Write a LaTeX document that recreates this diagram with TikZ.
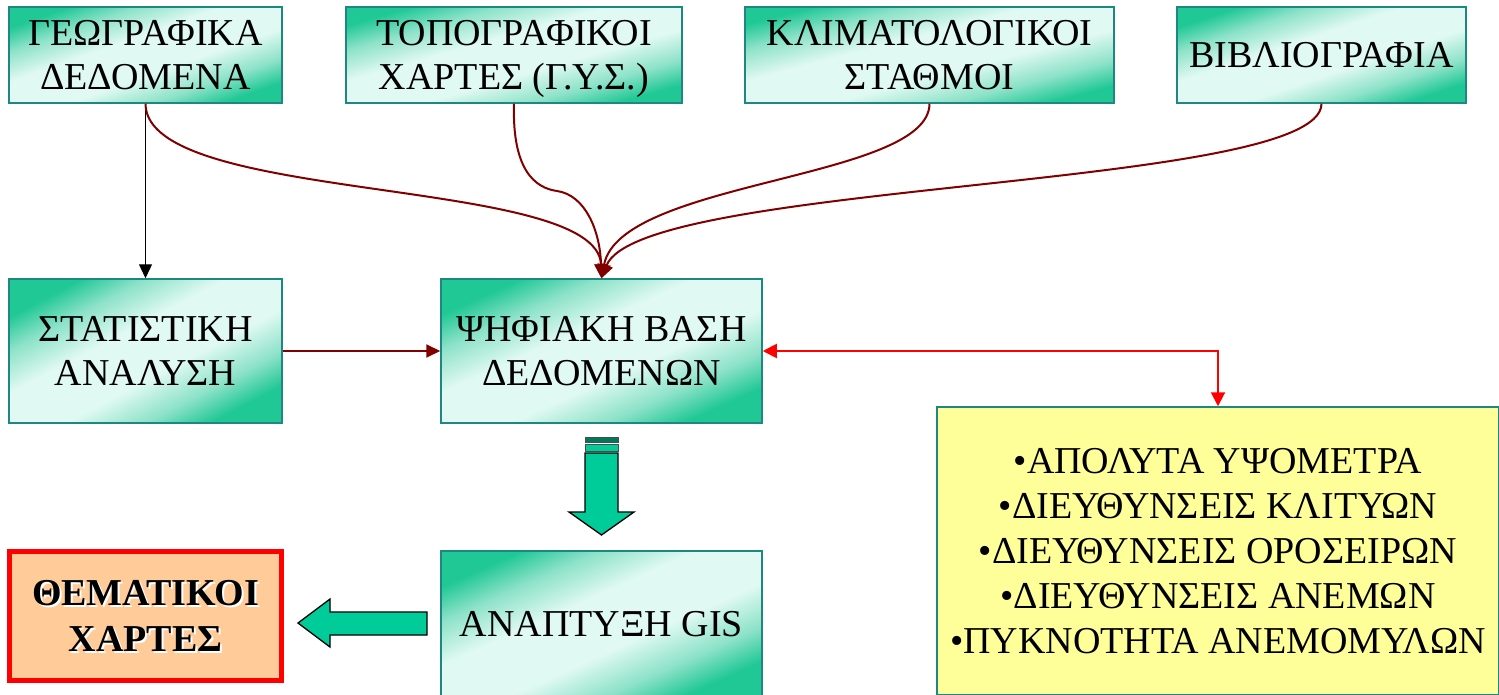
\documentclass[tikz,border=0pt]{standalone}
\usepackage{fontspec}
\setmainfont{Liberation Serif}
\usetikzlibrary{arrows.meta}
\definecolor{boxgreen}{RGB}{32,200,150}
\definecolor{boxlight}{RGB}{224,249,243}
\definecolor{boxmid}{RGB}{140,226,200}
\definecolor{boxedge}{RGB}{30,135,130}
\definecolor{darkred}{RGB}{128,0,0}
\definecolor{arrowgreen}{RGB}{0,204,153}
\definecolor{stripedark}{RGB}{0,120,90}
\definecolor{peach}{RGB}{255,204,153}
\definecolor{paleyellow}{RGB}{255,255,153}
\pgfdeclareverticalshading{gdiag}{100bp}{color(0bp)=(boxgreen); color(25bp)=(boxgreen);
  color(33bp)=(boxmid); color(43bp)=(boxlight); color(57bp)=(boxlight);
  color(67bp)=(boxmid); color(75bp)=(boxgreen); color(100bp)=(boxgreen)}
\tikzset{
  gbox/.style={draw=boxedge, line width=1.5pt, shading=gdiag, shading angle=#1,
    align=center, font=\fontsize{38}{44}\selectfont, inner sep=0pt},
  ybox/.style={draw=boxedge, line width=1.5pt, fill=paleyellow, align=center,
    font=\fontsize{38}{45}\selectfont, inner sep=0pt},
  rbox/.style={draw=red, line width=5pt, fill=peach, inner sep=0pt},
  themtext/.style={align=center, font=\bfseries\fontsize{38}{46}\selectfont, inner sep=0pt},
  drline/.style={draw=darkred, line width=2pt, -{Triangle[length=14pt,width=13pt]}},
  blkline/.style={draw=black, line width=1.3pt, -{Triangle[length=14pt,width=13pt]}},
  redline/.style={draw=red, line width=2pt, {Triangle[length=14pt,width=14pt]}-{Triangle[length=14pt,width=14pt]}},
  blockarrow/.style={draw=black, line width=1.3pt, fill=arrowgreen, line join=miter},
  stripebox/.style={draw=black!70, line width=0.8pt, fill=arrowgreen},
}
\begin{document}
\begin{tikzpicture}[x=1pt,y=-1pt]
\useasboundingbox (0,0) rectangle (1499,695);
% top row
\node[gbox=19.4, minimum width=273pt, minimum height=96pt] (g1) at (145.5,55) {ΓΕΩΓΡΑΦΙΚΑ\\ΔΕΔΟΜΕΝΑ};
\node[gbox=15.9, minimum width=336pt, minimum height=96pt] (g2) at (514,55) {ΤΟΠΟΓΡΑΦΙΚΟΙ\\ΧΑΡΤΕΣ \smash{(Γ.Υ.Σ.)}};
\node[gbox=14.6, minimum width=369pt, minimum height=96pt] (g3) at (929.5,55) {ΚΛΙΜΑΤΟΛΟΓΙΚΟΙ\\ΣΤΑΘΜΟΙ};
\node[gbox=18.4, minimum width=289pt, minimum height=96pt] (g4) at (1321.5,55) {ΒΙΒΛΙΟΓΡΑΦΙΑ};
% middle row
\node[gbox=27.8, minimum width=273pt, minimum height=144pt] (g5) at (145.5,351) {ΣΤΑΤΙΣΤΙΚΗ\\ΑΝΑΛΥΣΗ};
\node[gbox=24.2, minimum width=321pt, minimum height=144pt] (g6) at (601.5,351) {ΨΗΦΙΑΚΗ ΒΑΣΗ\\ΔΕΔΟΜΕΝΩΝ};
% bottom row
\node[gbox=24.2, minimum width=321pt, minimum height=146pt] (g7) at (601.5,624) {ΑΝΑΠΤΥΞΗ GIS};
\node[rbox, minimum width=272pt, minimum height=129pt] (them) at (145.5,616) {};
\node[themtext, text=white] (themsh) at ([shift={(2,2)}]them.center) {ΘΕΜΑΤΙΚΟΙ\\ΧΑΡΤΕΣ};
\node[themtext] (themtxt) at (them.center) {ΘΕΜΑΤΙΚΟΙ\\ΧΑΡΤΕΣ};
\node[ybox, minimum width=562pt, minimum height=288pt] (yb) at (1218,551)
  {•ΑΠΟΛΥΤΑ ΥΨΟΜΕΤΡΑ\\•ΔΙΕΥΘΥΝΣΕΙΣ ΚΛΙΤΥΩΝ\\•ΔΙΕΥΘΥΝΣΕΙΣ ΟΡΟΣΕΙΡΩΝ\\•ΔΙΕΥΘΥΝΣΕΙΣ ΑΝΕΜΩΝ\\•ΠΥΚΝΟΤΗΤΑ ΑΝΕΜΟΜΥΛΩΝ};
% connectors
\coordinate (bend2) at (557,191);
\draw[blkline] (g1.south) -- (g5.north);
\draw[drline] (g1.south) .. controls (146,205) and (598,175) .. (g6.north);
\draw[drline] (g2.south) .. controls (512,170) and (535,188) .. (bend2)
  .. controls (585,195) and (600,230) .. (g6.north);
\draw[drline] (g3.south) .. controls (929,180) and (620,180) .. (g6.north);
\draw[drline] (g4.south) .. controls (1321,190) and (640,180) .. (g6.north);
\draw[drline] (g5.east) -- (g6.west);
\draw[redline] (g6.east) -| (yb.north);
% block arrow down
\draw[stripebox, fill=stripedark] (585,437.5) rectangle (618,442.5);
\draw[stripebox] (585,444.5) rectangle (618,451.5);
\draw[blockarrow] (585,453) -- (618,453) -- (618,512) -- (634,512) -- (601.5,535) -- (569,512) -- (585,512) -- cycle;
% block arrow left
\draw[blockarrow] (427,612) -- (427,635) -- (330,635) -- (330,647) -- (298,623) -- (330,599) -- (330,612) -- cycle;
\end{tikzpicture}
\end{document}
